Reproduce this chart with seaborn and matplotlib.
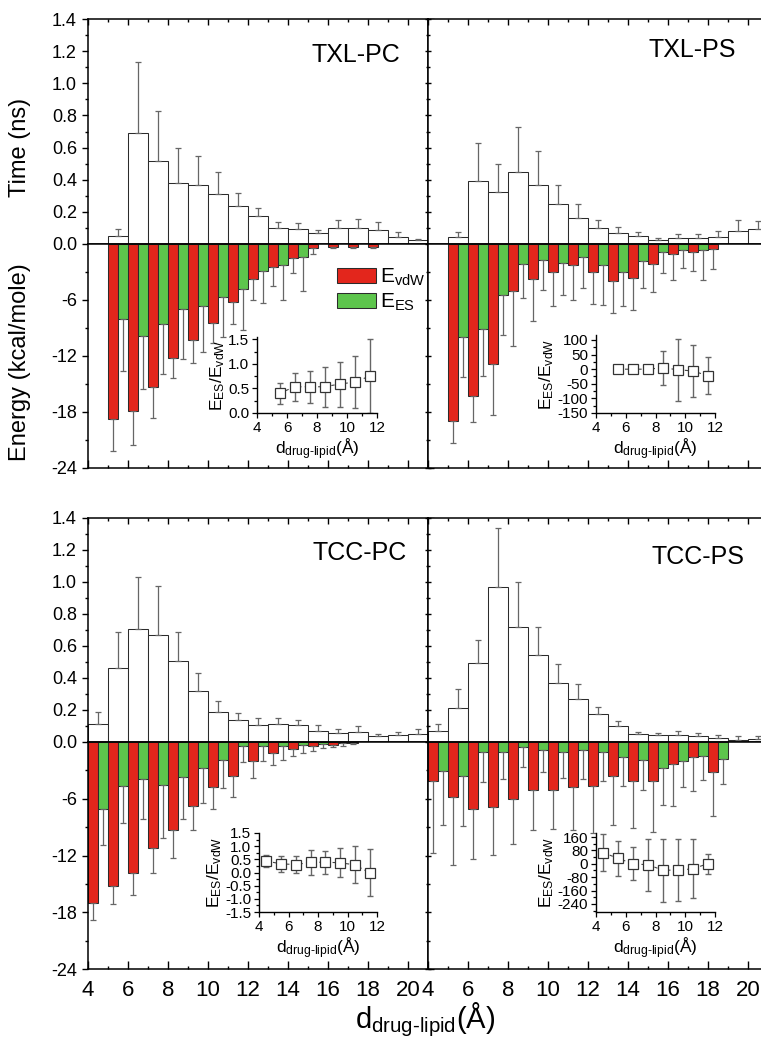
# drug-lipid contact time and interaction energy, 4 panels with insets

import matplotlib
matplotlib.use("Agg")
import matplotlib.pyplot as plt
import seaborn as sns
import numpy as np
from matplotlib.patches import Patch
from matplotlib.ticker import MultipleLocator, FixedLocator, FormatStrFormatter

# ---- data ----
# TXL-PC
txl_pc_time_bins = [5, 6, 7, 8, 9, 10, 11, 12, 13, 14, 15, 16, 17, 18, 19, 20]
txl_pc_time = [0.052, 0.69, 0.515, 0.38, 0.37, 0.31, 0.234, 0.172, 0.098, 0.093, 0.068, 0.10, 0.10, 0.087, 0.046, 0.025]
txl_pc_time_err = [0.041, 0.44, 0.315, 0.22, 0.176, 0.14, 0.086, 0.052, 0.041, 0.04, 0.021, 0.047, 0.054, 0.052, 0.029, 0.008]
txl_pc_vdw_bins = [5, 6, 7, 8, 9, 10, 11, 12, 13, 14, 15, 16, 17, 18]
txl_pc_vdw = [-18.7, -17.9, -15.3, -12.2, -10.3, -8.5, -6.2, -3.7, -2.5, -1.5, -0.46, -0.3, -0.3, -0.3]
txl_pc_vdw_err = [3.5, 3.6, 3.3, 2.2, 2.5, 2.1, 2.4, 2.3, 2.0, 1.6, 0.6, 0.15, 0.15, 0.15]
txl_pc_es_bins = [5, 6, 7, 8, 9, 10, 11, 12, 13, 14]
txl_pc_es = [-8.06, -9.84, -8.6, -7.0, -6.6, -5.7, -4.8, -2.85, -2.25, -1.36]
txl_pc_es_err = [5.5, 5.7, 5.3, 5.3, 5.0, 4.3, 4.4, 3.5, 3.7, 3.7]
txl_pc_ratio_x = [5.5, 6.5, 7.5, 8.5, 9.5, 10.5, 11.5]
txl_pc_ratio = [0.40, 0.535, 0.535, 0.535, 0.59, 0.63, 0.75]
txl_pc_ratio_err = [0.22, 0.29, 0.33, 0.41, 0.46, 0.53, 0.75]

# TXL-PS
txl_ps_time_bins = [5, 6, 7, 8, 9, 10, 11, 12, 13, 14, 15, 16, 17, 18, 19, 20]
txl_ps_time = [0.044, 0.39, 0.324, 0.45, 0.37, 0.25, 0.16, 0.10, 0.068, 0.052, 0.027, 0.037, 0.037, 0.044, 0.083, 0.093]
txl_ps_time_err = [0.031, 0.24, 0.176, 0.28, 0.21, 0.115, 0.09, 0.05, 0.038, 0.023, 0.013, 0.025, 0.027, 0.037, 0.064, 0.048]
txl_ps_vdw_bins = [5, 6, 7, 8, 9, 10, 11, 12, 13, 14, 15, 16, 17, 18]
txl_ps_vdw = [-19.0, -16.3, -12.9, -5.0, -3.74, -3.03, -2.3, -2.96, -3.96, -3.67, -2.18, -1.07, -0.82, -0.57]
txl_ps_vdw_err = [2.3, 2.8, 5.4, 5.9, 4.46, 3.57, 3.7, 3.44, 3.39, 3.39, 2.92, 2.78, 2.03, 2.13]
txl_ps_es_bins = [5, 6, 7, 8, 9, 10, 11, 12, 13, 14, 15, 16, 17]
txl_ps_es = [-10.0, -9.1, -5.46, -2.14, -1.7, -2.0, -1.43, -2.25, -2.96, -1.82, -0.9, -0.64, -0.64]
txl_ps_es_err = [4.2, 5.0, 4.34, 3.66, 3.2, 3.5, 3.27, 4.25, 3.64, 2.88, 2.17, 1.96, 3.21]
txl_ps_ratio_x = [5.5, 6.5, 7.5, 8.5, 9.5, 10.5, 11.5]
txl_ps_ratio = [0, 0, 0, 5, -2, -6, -22]
txl_ps_ratio_err = [4, 4, 4, 58, 106, 88, 62]

# TCC-PC
tcc_pc_time_bins = [4, 5, 6, 7, 8, 9, 10, 11, 12, 13, 14, 15, 16, 17, 18, 19, 20]
tcc_pc_time = [0.115, 0.465, 0.706, 0.67, 0.504, 0.32, 0.19, 0.135, 0.108, 0.115, 0.104, 0.071, 0.056, 0.0625, 0.035, 0.042, 0.05]
tcc_pc_time_err = [0.07, 0.225, 0.324, 0.305, 0.186, 0.113, 0.064, 0.045, 0.042, 0.035, 0.031, 0.037, 0.025, 0.035, 0.015, 0.018, 0.033]
tcc_pc_vdw_bins = [4, 5, 6, 7, 8, 9, 10, 11, 12, 13, 14, 15, 16, 17]
tcc_pc_vdw = [-17.0, -15.2, -13.8, -11.2, -9.33, -6.8, -4.8, -3.63, -1.97, -1.16, -0.74, -0.46, -0.28, -0.1]
tcc_pc_vdw_err = [1.8, 1.9, 2.4, 2.6, 2.9, 2.46, 2.28, 2.17, 1.83, 1.24, 0.76, 0.53, 0.25, 0.15]
tcc_pc_es_bins = [4, 5, 6, 7, 8, 9, 10, 11, 12, 13, 14, 15, 16]
tcc_pc_es = [-7.08, -4.6, -3.9, -4.5, -3.73, -2.75, -1.87, -0.46, -0.46, -0.39, -0.28, -0.2, -0.1]
tcc_pc_es_err = [3.77, 3.96, 4.2, 5.6, 4.37, 3.69, 2.99, 1.69, 1.58, 1.48, 0.88, 0.43, 0.3]
tcc_pc_ratio_x = [4.5, 5.5, 6.5, 7.5, 8.5, 9.5, 10.5, 11.5]
tcc_pc_ratio = [0.43, 0.33, 0.30, 0.39, 0.39, 0.37, 0.29, -0.01]
tcc_pc_ratio_err = [0.24, 0.30, 0.33, 0.47, 0.43, 0.55, 0.70, 0.90]

# TCC-PS
tcc_ps_time_bins = [4, 5, 6, 7, 8, 9, 10, 11, 12, 13, 14, 15, 16, 17, 18, 19, 20]
tcc_ps_time = [0.067, 0.215, 0.496, 0.97, 0.72, 0.544, 0.37, 0.27, 0.175, 0.098, 0.05, 0.042, 0.042, 0.035, 0.025, 0.015, 0.019]
tcc_ps_time_err = [0.048, 0.115, 0.14, 0.365, 0.28, 0.176, 0.12, 0.09, 0.045, 0.032, 0.0125, 0.014, 0.025, 0.021, 0.021, 0.02, 0.021]
tcc_ps_vdw_bins = [4, 5, 6, 7, 8, 9, 10, 11, 12, 13, 14, 15, 16, 17, 18]
tcc_ps_vdw = [-4.15, -5.85, -7.04, -6.9, -6.02, -5.04, -5.1, -4.79, -4.6, -3.63, -4.15, -4.08, -2.29, -1.62, -3.2]
tcc_ps_vdw_err = [7.55, 7.11, 5.32, 5.07, 4.72, 4.29, 4.05, 4.47, 5.0, 5.1, 4.93, 5.46, 4.51, 3.58, 4.65]
tcc_ps_es_bins = [4, 5, 6, 7, 8, 9, 10, 11, 12, 13, 14, 15, 16, 17, 18]
tcc_ps_es = [-3.03, -3.56, -1.09, -1.06, -0.53, -0.81, -1.09, -0.88, -1.09, -1.58, -1.94, -2.75, -1.97, -1.51, -1.8]
tcc_ps_es_err = [5.77, 5.34, 3.17, 2.84, 2.15, 2.39, 2.71, 3.02, 2.99, 3.02, 3.16, 3.95, 2.78, 2.47, 2.6]
tcc_ps_ratio_x = [4.5, 5.5, 6.5, 7.5, 8.5, 9.5, 10.5, 11.5]
tcc_ps_ratio = [66, 32, 0, -6, -38, -38, -30, 0]
tcc_ps_ratio_err = [112, 102, 99, 154, 188, 184, 177, 60]

titles = ["TXL-PC", "TXL-PS", "TCC-PC", "TCC-PS"]

# ---- style ----
RED = "#e3261c"
GREEN = "#5dc54c"
EDGE = "#2b2b2b"
ERR = "#666666"

sns.set_theme(style="ticks")
plt.rcParams["font.family"] = ["Liberation Sans", "DejaVu Sans"]
plt.rcParams["mathtext.fontset"] = "custom"
plt.rcParams["mathtext.rm"] = "Liberation Sans"
plt.rcParams["mathtext.it"] = "Liberation Sans:italic"
plt.rcParams["mathtext.bf"] = "Liberation Sans:bold"
plt.rcParams["axes.unicode_minus"] = False
for k in ["axes.edgecolor", "xtick.color", "ytick.color", "text.color", "axes.labelcolor"]:
    plt.rcParams[k] = "black"

W, H = 761, 1041
fig = plt.figure(figsize=(W / 100, H / 100), dpi=100)


def px_axes(x0, y0, x1, y1):
    return fig.add_axes([x0 / W, 1 - y1 / H, (x1 - x0) / W, (y1 - y0) / H])


def fig_text(x, y, s, **kw):
    fig.text(x / W, 1 - y / H, s, **kw)


def draw_bars(ax, bins, vals, errs, offset, width, color, up):
    x = np.array(bins, dtype=float) + offset
    sns.barplot(x=x, y=vals, native_scale=True, width=width, color=color,
                saturation=1, edgecolor=EDGE, linewidth=0.75, errorbar=None,
                orient="x", ax=ax)
    zeros = np.zeros(len(vals))
    yerr = [zeros, errs] if up else [errs, zeros]
    ax.errorbar(x, vals, yerr=yerr, fmt="none", ecolor=ERR, elinewidth=0.9,
                capsize=2, capthick=0.9, zorder=1)


def style_main(ax_t, ax_e, col, row):
    ydir = "out" if col == 0 else "inout"
    for ax in (ax_t, ax_e):
        ax.set_xlim(4, 21)
        ax.xaxis.set_major_locator(MultipleLocator(2))
        ax.xaxis.set_minor_locator(MultipleLocator(1))
        for s in ax.spines.values():
            s.set_visible(True)
            s.set_linewidth(1.1)
            s.set_color("black")
        ax.set_xlabel("")
        ax.set_ylabel("")
        ax.tick_params(axis="y", which="both", direction=ydir, left=True, right=True,
                       labelleft=(col == 0), labelright=False, labelsize=13, width=1)
        ax.tick_params(axis="both", which="major", length=4.5)
        ax.tick_params(axis="both", which="minor", length=2.5)
    ax_t.set_ylim(0, 1.4)
    ax_t.yaxis.set_major_locator(MultipleLocator(0.2))
    ax_t.yaxis.set_minor_locator(MultipleLocator(0.1))
    ax_t.yaxis.set_major_formatter(FormatStrFormatter("%.1f"))
    ax_t.tick_params(axis="x", which="both", direction="in", top=True, bottom=False,
                     labelbottom=False, labeltop=False, width=1)
    ax_e.set_ylim(-24, 0)
    ax_e.yaxis.set_major_locator(FixedLocator([-24, -18, -12, -6]))
    ax_e.yaxis.set_minor_locator(FixedLocator([-21, -15, -9, -3]))
    ax_e.yaxis.set_major_formatter(FormatStrFormatter("%d"))
    ax_e.tick_params(axis="x", which="both", direction="in", top=False, bottom=True,
                     labelbottom=(row == 1), labelsize=16, pad=8, width=1)
    ax_e.tick_params(axis="x", which="major", length=6)


def draw_inset(rect, xs, ys, errs, ylim, ymaj, ymin, fmt):
    ax = px_axes(*rect)
    ax.set_facecolor("none")
    ax.errorbar(xs, ys, yerr=errs, fmt="none", ecolor=ERR, elinewidth=1.0,
                capsize=2.2, capthick=1.0)
    sns.lineplot(x=xs, y=ys, ax=ax, color="#444444", linestyle=(0, (3, 3)),
                 linewidth=0.8, marker="s", markersize=7.5, markerfacecolor="white",
                 markeredgecolor="#333333", markeredgewidth=0.9)
    ax.set_xlim(4, 12)
    ax.set_ylim(*ylim)
    ax.xaxis.set_major_locator(MultipleLocator(2))
    ax.xaxis.set_minor_locator(MultipleLocator(1))
    ax.yaxis.set_major_locator(MultipleLocator(ymaj))
    ax.yaxis.set_minor_locator(MultipleLocator(ymin))
    ax.yaxis.set_major_formatter(FormatStrFormatter(fmt))
    sns.despine(ax=ax)
    for s in ("left", "bottom"):
        ax.spines[s].set_linewidth(1.0)
        ax.spines[s].set_color("black")
    ax.tick_params(which="both", direction="out", labelsize=11, width=0.9, pad=2)
    ax.tick_params(which="major", length=3.5)
    ax.tick_params(which="minor", length=2)
    ax.set_xlabel(r"d$_{\text{drug-lipid}}$(Å)", fontsize=12.5, labelpad=1)
    ax.set_ylabel(r"E$_{\mathrm{ES}}$/E$_{\mathrm{vdW}}$", fontsize=12.5, labelpad=1)
    return ax


# ---- panels ----
cols_px = [(88, 428), (428, 768)]
rows_px = [(19, 244, 468), (518, 742, 969)]
panels = [
    (txl_pc_time_bins, txl_pc_time, txl_pc_time_err, txl_pc_vdw_bins, txl_pc_vdw, txl_pc_vdw_err,
     txl_pc_es_bins, txl_pc_es, txl_pc_es_err),
    (txl_ps_time_bins, txl_ps_time, txl_ps_time_err, txl_ps_vdw_bins, txl_ps_vdw, txl_ps_vdw_err,
     txl_ps_es_bins, txl_ps_es, txl_ps_es_err),
    (tcc_pc_time_bins, tcc_pc_time, tcc_pc_time_err, tcc_pc_vdw_bins, tcc_pc_vdw, tcc_pc_vdw_err,
     tcc_pc_es_bins, tcc_pc_es, tcc_pc_es_err),
    (tcc_ps_time_bins, tcc_ps_time, tcc_ps_time_err, tcc_ps_vdw_bins, tcc_ps_vdw, tcc_ps_vdw_err,
     tcc_ps_es_bins, tcc_ps_es, tcc_ps_es_err),
]
title_pos = [(400, 55), (736, 50), (407, 553), (745, 557)]

for i, p in enumerate(panels):
    row, col = divmod(i, 2)
    x0, x1 = cols_px[col]
    y0, ym, y1 = rows_px[row]
    ax_t = px_axes(x0, y0, x1, ym)
    ax_e = px_axes(x0, ym, x1, y1)
    tb, tv, te, vb, vv, ve, eb, ev, ee = p
    draw_bars(ax_t, tb, tv, te, 0.5, 1.0, "white", up=True)
    draw_bars(ax_e, vb, vv, ve, 0.25, 0.5, RED, up=False)
    draw_bars(ax_e, eb, ev, ee, 0.75, 0.5, GREEN, up=False)
    style_main(ax_t, ax_e, col, row)
    tx, ty = title_pos[i]
    fig_text(tx, ty, titles[i], fontsize=18, ha="right", va="center")

# insets
draw_inset((257, 337, 377, 413), txl_pc_ratio_x, txl_pc_ratio, txl_pc_ratio_err,
           (0, 1.55), 0.5, 0.25, "%.1f")
draw_inset((596, 335, 715, 413), txl_ps_ratio_x, txl_ps_ratio, txl_ps_ratio_err,
           (-150, 117), 50, 25, "%d")
draw_inset((259, 833, 377, 912), tcc_pc_ratio_x, tcc_pc_ratio, tcc_pc_ratio_err,
           (-1.5, 1.5), 0.5, 0.25, "%.1f")
draw_inset((596, 833, 715, 912), tcc_ps_ratio_x, tcc_ps_ratio, tcc_ps_ratio_err,
           (-288, 184), 80, 40, "%d")

# legend
handles = [Patch(facecolor=RED, edgecolor=EDGE, linewidth=0.75),
           Patch(facecolor=GREEN, edgecolor=EDGE, linewidth=0.75)]
fig.legend(handles, [r"E$_{\mathrm{vdW}}$", r"E$_{\mathrm{ES}}$"], loc="center left",
           bbox_to_anchor=(337 / W, 1 - 290 / H), frameon=False, fontsize=15,
           handlelength=1.85, handleheight=0.75, handletextpad=0.2,
           labelspacing=0.2, borderpad=0, borderaxespad=0)

# axis labels
fig_text(20, 147, "Time (ns)", fontsize=17, rotation=90, ha="center", va="center")
fig_text(20, 362, "Energy (kcal/mole)", fontsize=17, rotation=90, ha="center", va="center")
fig_text(425, 1020, r"d$_{\text{drug-lipid}}$(Å)", fontsize=21, ha="center", va="center")

fig.savefig("out.png", dpi=100)
